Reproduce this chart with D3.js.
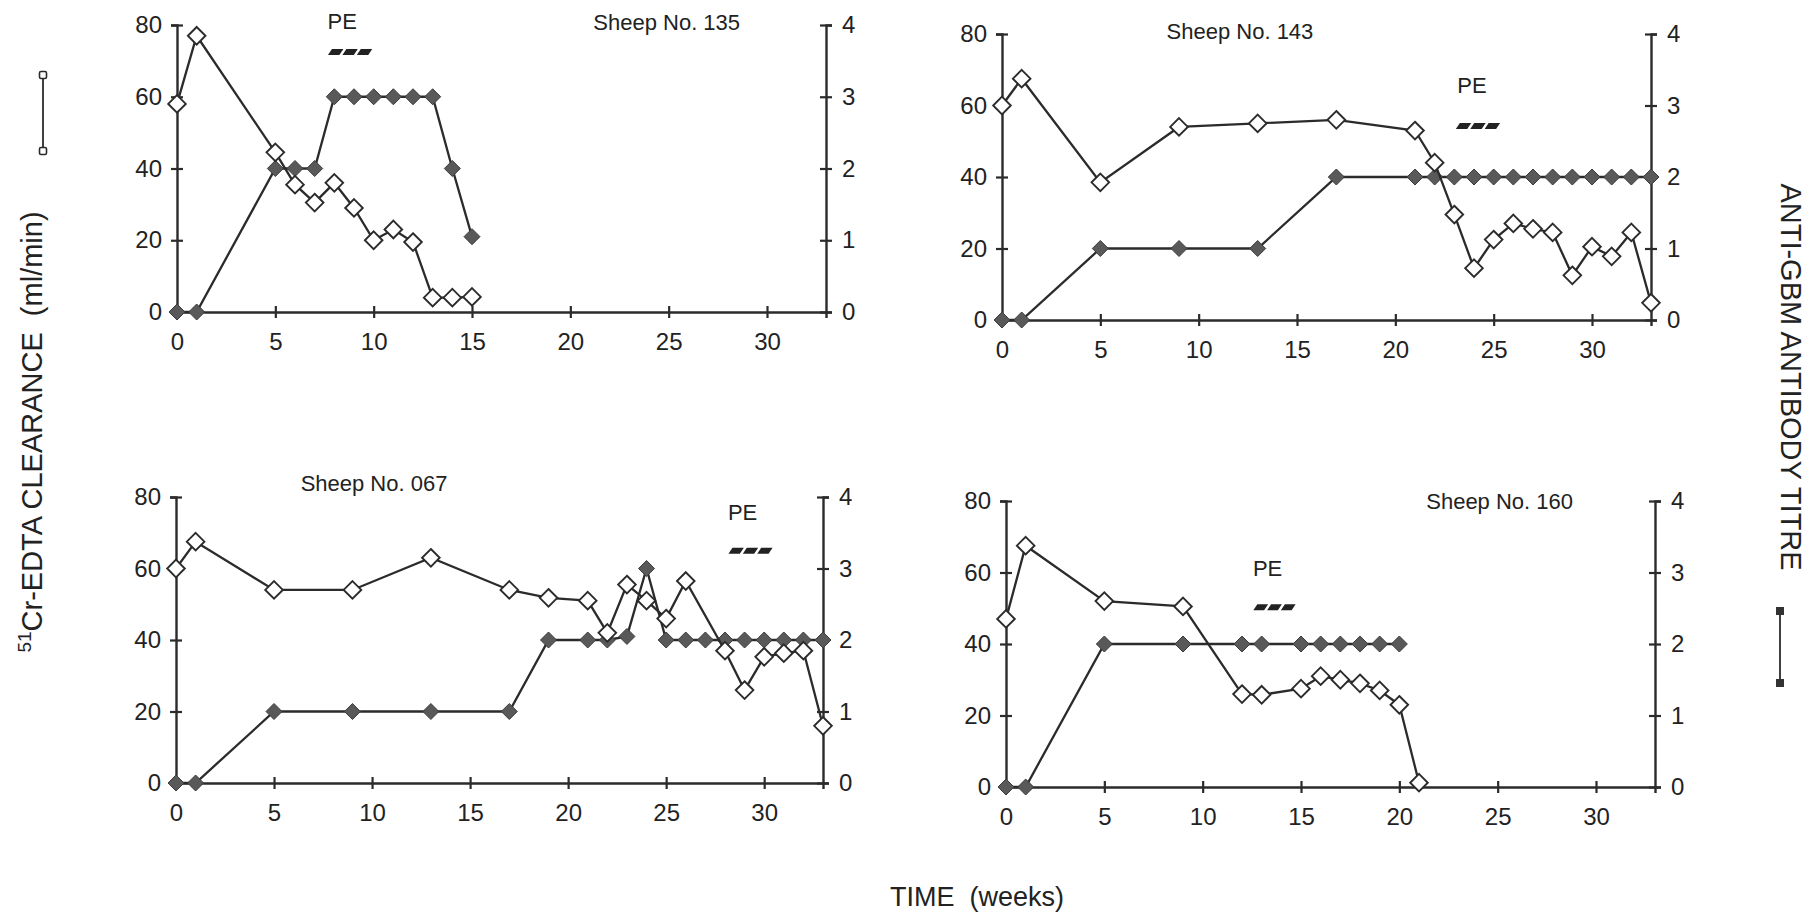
<!DOCTYPE html>
<html>
<head>
<meta charset="utf-8">
<script src="https://cdn.jsdelivr.net/npm/d3@7"></script>
<style>
  body { margin: 0; background: #ffffff; }
  svg { display: block; }
  text { font-family: "Liberation Sans", Arial, Helvetica, sans-serif; fill: #222; }
</style>
</head>
<body>
<svg id="chart" width="1818" height="917"></svg>
<script>
// ---- tick labels ----
const weekTicks = [0, 5, 10, 15, 20, 25, 30];
const clearanceTicks = [0, 20, 40, 60, 80];
const titreTicks = [0, 1, 2, 3, 4];

// ---- Sheep No. 135 ----
const clearanceWeeks135 = [0, 1, 5, 6, 7, 8, 9, 10, 11, 12, 13, 14, 15];
const clearance135      = [58, 77, 44.5, 35.5, 30.5, 36, 29, 20, 23, 19.5, 4, 4, 4.2];
const titreWeeks135     = [0, 1, 5, 6, 7, 8, 9, 10, 11, 12, 13, 14, 15];
const titre135          = [0, 0, 2, 2, 2, 3, 3, 3, 3, 3, 3, 2, 1.05];

// ---- Sheep No. 143 ----
const clearanceWeeks143 = [0, 1, 5, 9, 13, 17, 21, 22, 23, 24, 25, 26, 27, 28, 29, 30, 31, 32, 33];
const clearance143      = [60, 67.5, 38.5, 54, 55, 56, 53, 44, 29.5, 14.5, 22.5, 27, 25.5, 24.5, 12.5, 20.5, 17.8, 24.5, 4.8];
const titreWeeks143     = [0, 1, 5, 9, 13, 17, 21, 22, 23, 24, 25, 26, 27, 28, 29, 30, 31, 32, 33];
const titre143          = [0, 0, 1, 1, 1, 2, 2, 2, 2, 2, 2, 2, 2, 2, 2, 2, 2, 2, 2];

// ---- Sheep No. 067 ----
const clearanceWeeks067 = [0, 1, 5, 9, 13, 17, 19, 21, 22, 23, 24, 25, 26, 28, 29, 30, 31, 32, 33];
const clearance067      = [60, 67.5, 54, 54, 63, 54, 51.8, 51, 42, 55.5, 51, 46, 56.5, 37, 26, 35.3, 36.3, 37, 16];
const titreWeeks067     = [0, 1, 5, 9, 13, 17, 19, 21, 22, 23, 24, 25, 26, 27, 28, 29, 30, 31, 32, 33];
const titre067          = [0, 0, 1, 1, 1, 1, 2, 2, 2, 2.05, 3, 2, 2, 2, 2, 2, 2, 2, 2, 2];

// ---- Sheep No. 160 ----
const clearanceWeeks160 = [0, 1, 5, 9, 12, 13, 15, 16, 17, 18, 19, 20, 21];
const clearance160      = [47, 67.5, 52, 50.5, 26, 25.8, 27.5, 31, 30, 29, 27, 23, 1.2];
const titreWeeks160     = [0, 1, 5, 9, 12, 13, 15, 16, 17, 18, 19, 20];
const titre160          = [0, 0, 2, 2, 2, 2, 2, 2, 2, 2, 2, 2];

// ---- plasma exchange (PE) periods, in weeks, and where they are marked ----
const sheepNames   = ["Sheep No. 135", "Sheep No. 143", "Sheep No. 067", "Sheep No. 160"];
const peStart      = [7.6, 23.0, 28.1, 12.5];
const peEnd        = [9.8, 25.2, 30.3, 14.6];
const peLevel      = [72.5, 54.3, 65.0, 50.3];
const peLabelWeek  = [8.4, 23.9, 28.9, 13.3];
const peLabelLevel = [81.0, 65.5, 75.6, 61.0];
const nameWeek     = [24.9, 12.1, 10.1, 25.1];
const nameLevel    = [80.8, 80.6, 83.7, 80.0];

const series = [
  { cw: clearanceWeeks135, c: clearance135, tw: titreWeeks135, t: titre135 },
  { cw: clearanceWeeks143, c: clearance143, tw: titreWeeks143, t: titre143 },
  { cw: clearanceWeeks067, c: clearance067, tw: titreWeeks067, t: titre067 },
  { cw: clearanceWeeks160, c: clearance160, tw: titreWeeks160, t: titre160 }
];

// panel frames: left, top, right, bottom (pixels)
const frames = [
  [177, 25, 826, 312],
  [1002, 34, 1651, 320],
  [176, 497, 823, 783],
  [1006, 501, 1655, 787]
];

const INK = "#2b2b2b";
const svg = d3.select("#chart");

function diamond(r) {
  return `M0,${-r}L${r},0L0,${r}L${-r},0Z`;
}

function crossTicks(axisG, orient) {
  axisG.attr("color", INK);
  axisG.select(".domain").attr("stroke-width", 2.4);
  axisG.selectAll(".tick line").attr("stroke-width", 2.2);
  if (orient === "bottom") {
    axisG.selectAll(".tick line").attr("y1", -6).attr("y2", 6);
  } else {
    axisG.selectAll(".tick line").attr("x1", -6).attr("x2", 6);
  }
  axisG.selectAll(".tick text")
    .attr("font-family", "Liberation Sans, Arial, sans-serif")
    .attr("font-size", 24)
    .attr("fill", "#222");
}

frames.forEach((f, i) => {
  const [L, T, R, B] = f;
  const x = d3.scaleLinear().domain([0, 33]).range([L, R]);
  const y = d3.scaleLinear().domain([0, 80]).range([B, T]);
  const y2 = d3.scaleLinear().domain([0, 4]).range([B, T]);
  const g = svg.append("g");

  // axes
  g.append("g").attr("transform", `translate(0,${B})`)
    .call(d3.axisBottom(x).tickValues(weekTicks).tickFormat(d3.format("d"))
      .tickSizeOuter(0).tickSize(6).tickPadding(15))
    .call(a => crossTicks(a, "bottom"));
  g.append("g").attr("transform", `translate(${L},0)`)
    .call(d3.axisLeft(y).tickValues(clearanceTicks).tickFormat(d3.format("d"))
      .tickSizeOuter(0).tickSize(6).tickPadding(9))
    .call(a => crossTicks(a, "left"));
  g.append("g").attr("transform", `translate(${R},0)`)
    .call(d3.axisRight(y2).tickValues(titreTicks).tickFormat(d3.format("d"))
      .tickSizeOuter(0).tickSize(6).tickPadding(10))
    .call(a => crossTicks(a, "right"));

  const s = series[i];
  const titrePts = s.tw.map((w, k) => [w, s.t[k]]);
  const clearPts = s.cw.map((w, k) => [w, s.c[k]]);

  // antibody titre (filled diamonds, right axis)
  g.append("path")
    .attr("d", d3.line().x(d => x(d[0])).y(d => y2(d[1]))(titrePts))
    .attr("fill", "none").attr("stroke", INK).attr("stroke-width", 2.3);
  g.selectAll(".titre").data(titrePts).join("path")
    .attr("class", "titre")
    .attr("transform", d => `translate(${x(d[0])},${y2(d[1])})`)
    .attr("d", diamond(8))
    .attr("fill", "#595959").attr("stroke", "#3c3c3c").attr("stroke-width", 1);

  // 51Cr-EDTA clearance (open diamonds, left axis)
  g.append("path")
    .attr("d", d3.line().x(d => x(d[0])).y(d => y(d[1]))(clearPts))
    .attr("fill", "none").attr("stroke", INK).attr("stroke-width", 2.3);
  g.selectAll(".clear").data(clearPts).join("path")
    .attr("class", "clear")
    .attr("transform", d => `translate(${x(d[0])},${y(d[1])})`)
    .attr("d", diamond(8.8))
    .attr("fill", "#fff").attr("stroke", INK).attr("stroke-width", 1.9);

  // plasma exchange bar: three slanted dark segments
  const x0 = x(peStart[i]), x1 = x(peEnd[i]), yc = y(peLevel[i]);
  const segW = (x1 - x0) / 3, h = 6, slant = 4, gap = 3;
  d3.range(3).forEach(k => {
    const a = x0 + k * segW + gap / 2, b = x0 + (k + 1) * segW - gap / 2;
    g.append("path")
      .attr("d", `M${a},${yc + h / 2}L${b},${yc + h / 2}L${b + slant},${yc - h / 2}L${a + slant},${yc - h / 2}Z`)
      .attr("fill", "#222");
  });
  g.append("text")
    .attr("x", x(peLabelWeek[i])).attr("y", y(peLabelLevel[i]))
    .attr("text-anchor", "middle").attr("dominant-baseline", "central")
    .attr("font-size", 22).text("PE");

  // sheep label
  g.append("text")
    .attr("x", x(nameWeek[i])).attr("y", y(nameLevel[i]))
    .attr("text-anchor", "middle").attr("dominant-baseline", "central")
    .attr("font-size", 22).text(sheepNames[i]);
});

// ---- axis titles ----
const leftTitle = svg.append("text")
  .attr("transform", "translate(32,432) rotate(-90)")
  .attr("text-anchor", "middle").attr("dominant-baseline", "central")
  .attr("font-size", 29).style("white-space", "pre");
leftTitle.append("tspan").attr("font-size", 19).attr("dy", -8).text("51");
leftTitle.append("tspan").attr("dy", 8).text("Cr-EDTA CLEARANCE  (ml/min)");

svg.append("text")
  .attr("transform", "translate(1791,377) rotate(90)")
  .attr("text-anchor", "middle").attr("dominant-baseline", "central")
  .attr("font-size", 29).text("ANTI-GBM ANTIBODY TITRE");

svg.append("text")
  .attr("x", 977).attr("y", 897)
  .attr("text-anchor", "middle").attr("dominant-baseline", "central")
  .attr("font-size", 27).style("white-space", "pre").text("TIME  (weeks)");

// ---- key symbols beside the axis titles ----
const keyOpen = svg.append("g");
keyOpen.append("line").attr("x1", 43).attr("x2", 43).attr("y1", 75).attr("y2", 151)
  .attr("stroke", INK).attr("stroke-width", 1.8);
[75, 151].forEach(cy => keyOpen.append("rect")
  .attr("x", 39.5).attr("y", cy - 3.5).attr("width", 7).attr("height", 7).attr("rx", 1.5)
  .attr("fill", "#fff").attr("stroke", INK).attr("stroke-width", 1.6));

const keyFilled = svg.append("g");
keyFilled.append("line").attr("x1", 1780).attr("x2", 1780).attr("y1", 611).attr("y2", 683)
  .attr("stroke", INK).attr("stroke-width", 1.8);
[611, 683].forEach(cy => keyFilled.append("rect")
  .attr("x", 1776).attr("y", cy - 4).attr("width", 8).attr("height", 8)
  .attr("fill", "#333"));
</script>
</body>
</html>
